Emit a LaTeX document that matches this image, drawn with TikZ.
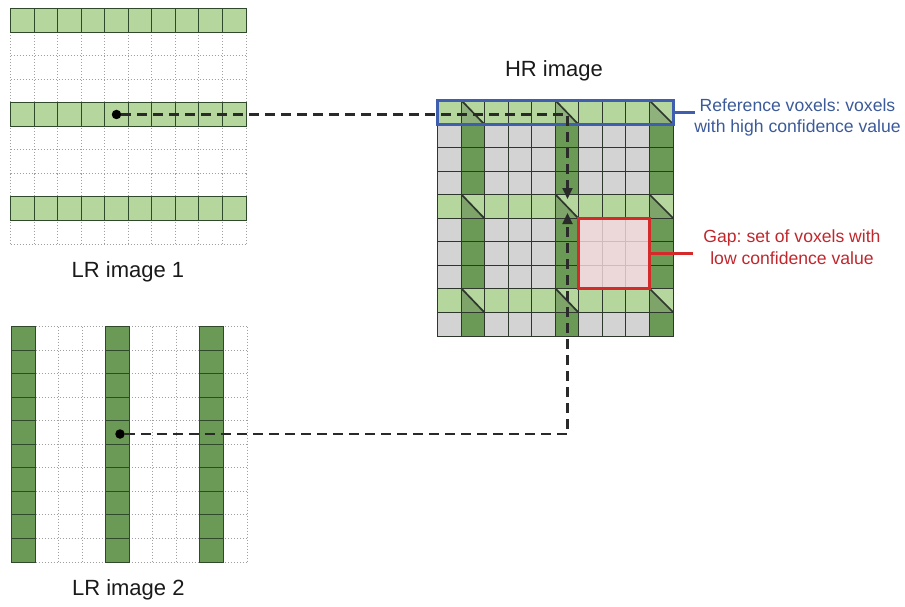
\documentclass[tikz,border=0pt]{standalone}
\usepackage{fontspec}
\setmainfont{Liberation Sans}
\frenchspacing
\usetikzlibrary{arrows.meta}

\definecolor{lgreen}{HTML}{B5D79E}
\definecolor{mgreen}{HTML}{7FA46A}
\definecolor{mgreenlt}{HTML}{8FB27C}
\definecolor{dgreen}{HTML}{6B9A56}
\definecolor{hgray}{HTML}{D3D3D3}
\definecolor{gridline}{HTML}{2E372C}
\definecolor{cellline}{HTML}{2F4A2A}
\definecolor{dotgray}{HTML}{A0A0A0}
\definecolor{gappink}{HTML}{F2DADA}
\definecolor{gapred}{HTML}{D42A2A}
\definecolor{gaptext}{HTML}{C0272D}
\definecolor{refblue}{HTML}{3F5FAE}
\definecolor{reftext}{HTML}{3C5A9A}
\definecolor{dashgray}{HTML}{2A2A2A}
\definecolor{labeltext}{HTML}{1A1A1A}

% cell pitch and pixel-snapped grid position of line #1
\def\cw{23.55}
\def\P#1{(round((#1)*\cw)+0.5)}

\tikzset{
  dotgrid/.style={draw=dotgray, line width=0.9pt, dash pattern=on 1pt off 2pt},
  lrlight/.style={fill=lgreen, draw=cellline, line width=1.8pt},
  lrdark/.style={fill=dgreen, draw=cellline, line width=1.8pt},
  hrline/.style={draw=gridline, line width=1.7pt},
  dotmark/.style={circle, fill=black, inner sep=0pt, minimum size=9.5pt},
  dashln/.style={draw=dashgray, line width=2.1pt, dash pattern=on 10pt off 6pt,
    -{Triangle[length=11pt,width=10pt]}},
  lbl/.style={text=labeltext, font=\fontsize{22}{26}\selectfont, inner sep=0pt},
  refbox/.style={draw=refblue, line width=2.2pt, inner sep=0pt,
    minimum width=236pt, minimum height=24pt},
  gapbox/.style={draw=gapred, line width=2.2pt, fill=gappink, fill opacity=0.82,
    inner sep=0pt, minimum width=71pt, minimum height=70pt},
  reftxt/.style={text=reftext, align=center, inner sep=0pt,
    font=\fontsize{17.6}{21.4}\selectfont},
  gaptxt/.style={text=gaptext, align=center, inner sep=0pt,
    font=\fontsize{17.6}{21.6}\selectfont},
}

\begin{document}
\begin{tikzpicture}[x=1pt,y=-1pt]
\useasboundingbox (0,0) rectangle (905,607);

% ---------- LR image 1: rows 0, 4, 8 acquired ----------
\begin{scope}[shift={(10,8)}]
  \foreach \i in {0,...,10} {
    \draw[dotgrid] ({\P{\i}},{\P{0}}) -- ({\P{\i}},{\P{10}});
    \draw[dotgrid] ({\P{0}},{\P{\i}}) -- ({\P{10}},{\P{\i}});
  }
  \foreach \r in {0,4,8}
    \foreach \c in {0,...,9}
      \draw[lrlight] ({\P{\c}},{\P{\r}}) rectangle ({\P{\c+1}},{\P{\r+1}});
\end{scope}
\node[dotmark] (dotA) at (116.5,114.5) {};
\node[lbl, anchor=base] (lrA) at (128,277.7) {LR image 1};

% ---------- LR image 2: columns 0, 4, 8 acquired ----------
\begin{scope}[shift={(11,326)}]
  \foreach \i in {0,...,10} {
    \draw[dotgrid] ({\P{\i}},{\P{0}}) -- ({\P{\i}},{\P{10}});
    \draw[dotgrid] ({\P{0}},{\P{\i}}) -- ({\P{10}},{\P{\i}});
  }
  \foreach \c in {0,4,8}
    \foreach \r in {0,...,9}
      \draw[lrdark] ({\P{\c}},{\P{\r}}) rectangle ({\P{\c+1}},{\P{\r+1}});
\end{scope}
\node[dotmark] (dotB) at (120,434) {};
\node[lbl, anchor=base] (lrB) at (128.3,595.7) {LR image 2};

% ---------- HR image ----------
\node[lbl, anchor=base] (hr) at (554,76.7) {HR image};
\begin{scope}[shift={(437,100)}]
  \fill[hgray] ({\P{0}},{\P{0}}) rectangle ({\P{10}},{\P{10}});
  \foreach \r in {0,4,8}
    \fill[lgreen] ({\P{0}},{\P{\r}}) rectangle ({\P{10}},{\P{\r+1}});
  \foreach \c in {1,5,9}
    \fill[dgreen] ({\P{\c}},{\P{0}}) rectangle ({\P{\c+1}},{\P{10}});
  % voxels covered by both acquisitions: split along the diagonal
  \foreach \r/\mc in {0/mgreenlt,4/mgreen,8/mgreen}
    \foreach \c in {1,5,9} {
      \fill[\mc] ({\P{\c}},{\P{\r}}) rectangle ({\P{\c+1}},{\P{\r+1}});
      \fill[lgreen] ({\P{\c}},{\P{\r}}) -- ({\P{\c+1}},{\P{\r}})
        -- ({\P{\c+1}},{\P{\r+1}}) -- cycle;
    }
  \foreach \i in {0,...,10} {
    \draw[hrline] ({\P{\i}},{\P{0}}) -- ({\P{\i}},{\P{10}});
    \draw[hrline] ({\P{0}},{\P{\i}}) -- ({\P{10}},{\P{\i}});
  }
  \foreach \r in {0,4,8}
    \foreach \c in {1,5,9}
      \draw[hrline] ({\P{\c}},{\P{\r}}) -- ({\P{\c+1}},{\P{\r+1}});
\end{scope}

% reference row and gap region
\node[refbox] (ref) at (555.5,112.5) {};
\node[gapbox] (gap) at (614,253.5) {};

% projections of the two LR samples into the HR grid
\coordinate (tipA) at (567.5,199);
\coordinate (tipB) at (567.5,213);
\draw[dashln] (dotA) -| (tipA);
\draw[dashln] (dotB) -| (tipB);

% annotations
\coordinate (refend) at (695,112.5);
\coordinate (gapend) at (693,253.5);
\draw[draw=refblue, line width=2.2pt] (ref.east) -- (refend);
\draw[draw=gapred, line width=2.2pt] (gap.east) -- (gapend);
\node[reftxt] (reftext) at (797.5,117.5) {Reference voxels: voxels\\with high confidence value};
\node[gaptxt] (gaptext) at (792,247.5) {Gap: set of voxels with\\low confidence value};
\end{tikzpicture}
\end{document}
